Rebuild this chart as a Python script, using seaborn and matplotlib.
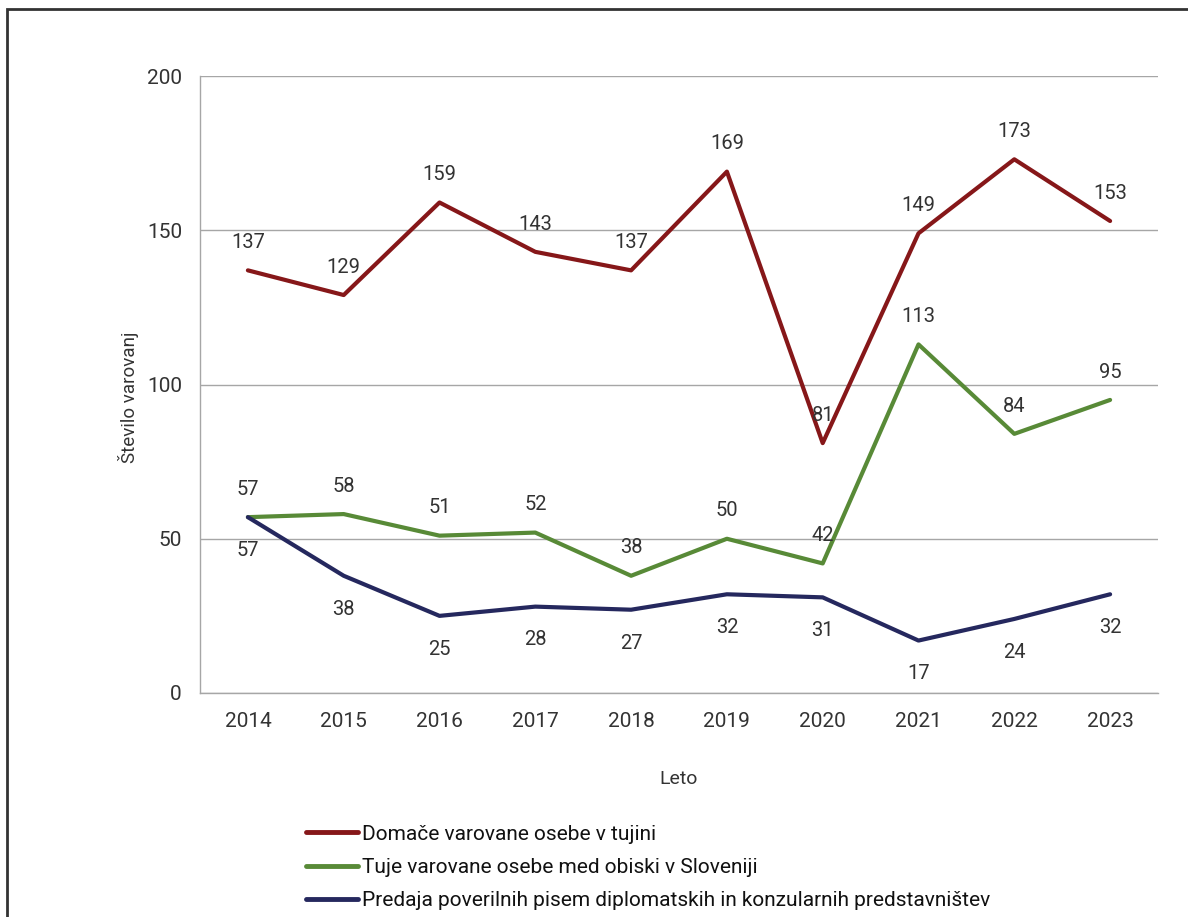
import seaborn as sns
import pandas as pd
import numpy as np
import matplotlib.pyplot as plt
from matplotlib.patches import Rectangle
from matplotlib.lines import Line2D

# Data
years = [2014, 2015, 2016, 2017, 2018, 2019, 2020, 2021, 2022, 2023]
domace = [137, 129, 159, 143, 137, 169, 81, 149, 173, 153]
tuje = [57, 58, 51, 52, 38, 50, 42, 113, 84, 95]
predaja = [57, 38, 25, 28, 27, 32, 31, 17, 24, 32]

series_names = [
    'Domače varovane osebe v tujini',
    'Tuje varovane osebe med obiski v Sloveniji',
    'Predaja poverilnih pisem diplomatskih in konzularnih predstavništev',
]
colors = ['#861719', '#588a37', '#25285e']

df = pd.DataFrame({
    'Leto': years * 3,
    'Vrednost': domace + tuje + predaja,
    'Serija': [series_names[0]] * 10 + [series_names[1]] * 10 + [series_names[2]] * 10,
})

sns.set_style('white')
plt.rcParams['font.family'] = ['Roboto', 'DejaVu Sans']
text_col = '#333333'
grid_col = '#a6a6a6'

fig = plt.figure(figsize=(11.88, 9.17), dpi=100)
ax = fig.add_axes([200 / 1188, 1 - 693 / 917, 958 / 1188, 617 / 917])

sns.lineplot(data=df, x='Leto', y='Vrednost', hue='Serija',
             palette=dict(zip(series_names, colors)), linewidth=3,
             legend=False, ax=ax)

ax.set_xlim(2013.5, 2023.5)
ax.set_ylim(0, 200)
ax.set_yticks([0, 50, 100, 150, 200])
ax.set_xticks(years)
ax.yaxis.grid(True, color=grid_col, linewidth=1)
ax.set_axisbelow(True)
for s in ['top', 'right']:
    ax.spines[s].set_visible(False)
for s in ['left', 'bottom']:
    ax.spines[s].set_color(grid_col)
    ax.spines[s].set_linewidth(1)
ax.tick_params(axis='both', colors=grid_col, labelcolor=text_col,
               labelsize=15, length=5, width=1, direction='out')
ax.tick_params(axis='x', pad=9)
ax.tick_params(axis='y', pad=8)

ax.set_xlabel('Leto', fontsize=14, color=text_col, labelpad=28)
ax.set_ylabel('Število varovanj', fontsize=13.5, color=text_col)
ax.yaxis.set_label_coords(-0.064, 0.48)

# Value labels
for vals, dy in [(domace, 20), (tuje, 20), (predaja, -24)]:
    for x, v in zip(years, vals):
        ax.annotate(str(v), (x, v), xytext=(0, dy), textcoords='offset points',
                    ha='center', va='center', fontsize=14.5, color=text_col)

# Legend below the plot
handles = [Line2D([0], [0], color=c, linewidth=3.5) for c in colors]
fig.legend(handles, series_names, loc='upper left',
           bbox_to_anchor=(287 / 1188, 1 - 806 / 917), frameon=False,
           fontsize=15, handlelength=2.5, handletextpad=0.2,
           labelspacing=0.68, labelcolor='#111111')

# Outer frame
fig.add_artist(Rectangle((7 / 1188, -0.05), 1.1, 1 - 9 / 917 + 0.05,
                         transform=fig.transFigure, fill=False,
                         edgecolor='#333333', linewidth=2))

fig.savefig('out.png', dpi=100)
